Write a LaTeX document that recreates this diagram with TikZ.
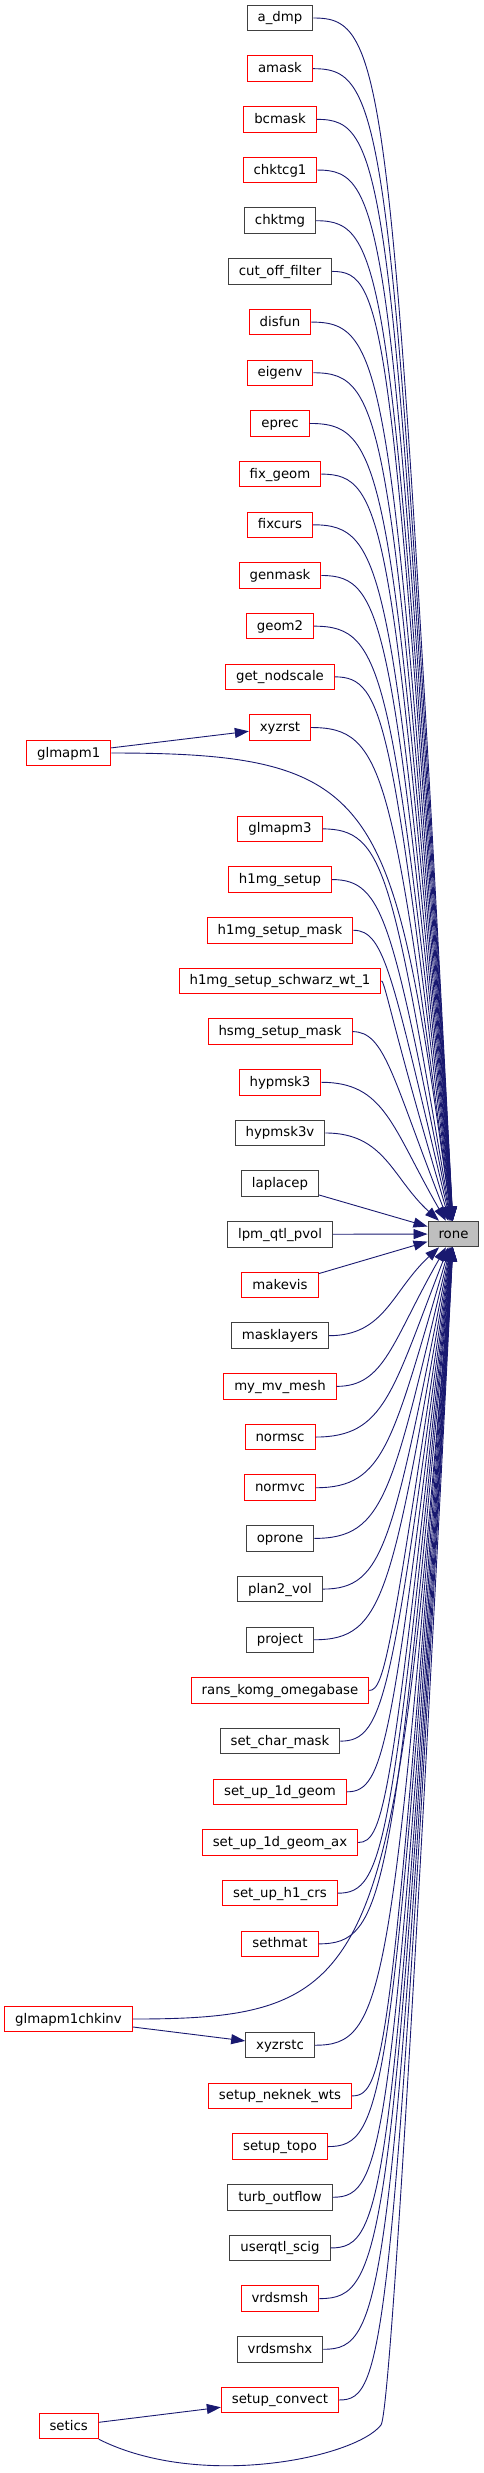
\documentclass[tikz,border=0pt]{standalone}
\usepackage{fontspec}
\setmainfont{DejaVu Sans}
\usetikzlibrary{arrows.meta,calc}
\definecolor{edgeblue}{HTML}{191970}
\definecolor{boxgrey}{HTML}{404040}
\definecolor{fillgrey}{HTML}{BFBFBF}

\begin{document}
\begin{tikzpicture}[x=1pt,y=-1pt,->,>={Triangle[length=14pt,width=10pt]},node distance=50.68pt,
  font=\fontsize{13.3}{16}\selectfont]

  \tikzstyle{fn}=[draw=boxgrey,fill=white,line width=1pt,minimum height=25.5pt,inner xsep=10.5pt,inner ysep=0pt,text height=10pt,text depth=2pt]
  \tikzstyle{undoc}=[fn,draw=red]
  \tikzstyle{call}=[edgeblue,line width=0.9pt]

  \useasboundingbox (0,0) rectangle (484,2473);

  \node[fn]    (admp)      at (280,18) {a\_dmp};
  \node[undoc] (amask)     [below of=admp]     {amask};
  \node[undoc] (bcmask)    [below of=amask]    {bcmask};
  \node[undoc] (chktcg1)   [below of=bcmask]   {chktcg1};
  \node[fn]    (chktmg)    [below of=chktcg1]  {chktmg};
  \node[fn]    (cutoff)    [below of=chktmg]   {cut\_off\_filter};
  \node[undoc] (disfun)    [below of=cutoff]   {disfun};
  \node[undoc] (eigenv)    [below of=disfun]   {eigenv};
  \node[undoc] (eprec)     [below of=eigenv]   {eprec};
  \node[undoc] (fixgeom)   [below of=eprec]    {fix\_geom};
  \node[undoc] (fixcurs)   [below of=fixgeom]  {fixcurs};
  \node[undoc] (genmask)   [below of=fixcurs]  {genmask};
  \node[undoc] (geom2)     [below of=genmask]  {geom2};
  \node[undoc] (getnod)    [below of=geom2]    {get\_nodscale};
  \node[undoc] (xyzrst)    [below of=getnod]   {xyzrst};
  \node[undoc] (glmapm1)   at (68.7,753)       {glmapm1};
  \node[undoc] (glmapm3)   [below of=xyzrst, node distance=101.36pt] {glmapm3};
  \node[undoc] (h1setup)   [below of=glmapm3]  {h1mg\_setup};
  \node[undoc] (h1mask)    [below of=h1setup]  {h1mg\_setup\_mask};
  \node[undoc] (h1schwarz) [below of=h1mask]   {h1mg\_setup\_schwarz\_wt\_1};
  \node[undoc] (hsmgmask)  [below of=h1schwarz] {hsmg\_setup\_mask};
  \node[undoc] (hypmsk3)   [below of=hsmgmask] {hypmsk3};
  \node[fn]    (hypmsk3v)  [below of=hypmsk3]  {hypmsk3v};
  \node[fn]    (laplacep)  [below of=hypmsk3v] {laplacep};
  \node[fn]    (lpmqtl)    [below of=laplacep] {lpm\_qtl\_pvol};
  \node[fn,fill=fillgrey] (rone) at (453.5,1234) {rone};
  \node[undoc] (makevis)   [below of=lpmqtl]   {makevis};
  \node[fn]    (masklay)   [below of=makevis]  {masklayers};
  \node[undoc] (mymv)      [below of=masklay]  {my\_mv\_mesh};
  \node[undoc] (normsc)    [below of=mymv]     {normsc};
  \node[undoc] (normvc)    [below of=normsc]   {normvc};
  \node[fn]    (oprone)    [below of=normvc]   {oprone};
  \node[fn]    (plan2vol)  [below of=oprone]   {plan2\_vol};
  \node[fn]    (project)   [below of=plan2vol] {project};
  \node[undoc] (rans)      [below of=project]  {rans\_komg\_omegabase};
  \node[fn]    (charmask)  [below of=rans]     {set\_char\_mask};
  \node[undoc] (oned)      [below of=charmask] {set\_up\_1d\_geom};
  \node[undoc] (onedax)    [below of=oned]     {set\_up\_1d\_geom\_ax};
  \node[undoc] (h1crs)     [below of=onedax]   {set\_up\_h1\_crs};
  \node[undoc] (sethmat)   [below of=h1crs]    {sethmat};
  \node[undoc] (chkinv)    at (68.5,2019)      {glmapm1chkinv};
  \node[fn]    (xyzrstc)   [below of=sethmat, node distance=101.36pt] {xyzrstc};
  \node[undoc] (neknek)    [below of=xyzrstc]  {setup\_neknek\_wts};
  \node[undoc] (topo)      [below of=neknek]   {setup\_topo};
  \node[fn]    (turb)      [below of=topo]     {turb\_outflow};
  \node[fn]    (userqtl)   [below of=turb]     {userqtl\_scig};
  \node[undoc] (vrdsmsh)   [below of=userqtl]  {vrdsmsh};
  \node[fn]    (vrdsmshx)  [below of=vrdsmsh]  {vrdsmshx};
  \node[undoc] (convect)   [below of=vrdsmshx] {setup\_convect};
  \node[undoc] (setics)    at (68.7,2426)      {setics};

  \coordinate (bend) at (385,0);
  \coordinate (setloop) at (381,2425);

  % callers above rone
  \foreach \n in {admp,amask,bcmask,chktcg1,chktmg,cutoff,disfun,eigenv,eprec,fixgeom,fixcurs,genmask,geom2,getnod,xyzrst,glmapm1,glmapm3,h1setup,h1mask,h1schwarz,hsmgmask,hypmsk3,hypmsk3v}
    \draw[call] (\n.east) .. controls (\n.east -| bend) and ($(\n.east -| bend)+(7,45)$) .. (rone);

  \draw[call] (laplacep) -- (rone);
  \draw[call] (lpmqtl) -- (rone);
  \draw[call] (makevis) -- (rone);

  % callers below rone
  \foreach \n in {masklay,mymv,normsc,normvc,oprone,plan2vol,project,rans,charmask,oned,onedax,h1crs,sethmat,chkinv,xyzrstc,neknek,topo,turb,userqtl,vrdsmsh,vrdsmshx,convect}
    \draw[call] (\n.east) .. controls (\n.east -| bend) and ($(\n.east -| bend)+(7,-45)$) .. (rone);

  \draw[call] (glmapm1) -- (xyzrst);
  \draw[call] (chkinv) -- (xyzrstc);
  \draw[call] (setics) -- (convect);
  \draw[call] (setics.south east) .. controls (200,2490) and (355,2458) .. (setloop)
    .. controls (392,2410) and (430,1700) .. (rone);
\end{tikzpicture}
\end{document}
